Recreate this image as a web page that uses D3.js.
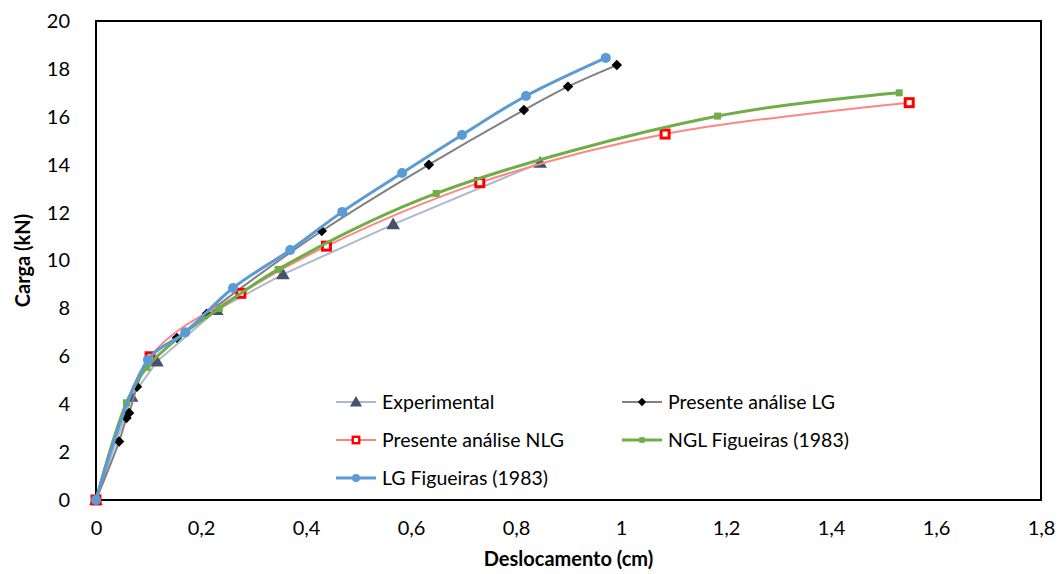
<!DOCTYPE html>
<html>
<head>
<meta charset="utf-8">
<script src="https://cdn.jsdelivr.net/npm/d3@7"></script>
<style>
  body { margin: 0; background: #fff; }
  text { font-family: Lato, 'Open Sans', sans-serif; }
</style>
</head>
<body>
<div id="app"></div>
<script>
// x = deslocamento (cm), y = carga (kN)
const expX = [0, 0.068, 0.116, 0.23, 0.356, 0.566, 0.846];
const expY = [0, 4.31, 5.78, 7.93, 9.42, 11.51, 14.08];

const lgX = [0, 0.044, 0.058, 0.063, 0.078, 0.1, 0.154, 0.211, 0.43, 0.634, 0.815, 0.899, 0.992];
const lgY = [0, 2.44, 3.42, 3.63, 4.73, 5.9, 6.77, 7.78, 11.23, 14.0, 16.28, 17.26, 18.16];

const nlgX = [0, 0.103, 0.276, 0.439, 0.731, 1.084, 1.549];
const nlgY = [0, 5.98, 8.63, 10.6, 13.25, 15.28, 16.59];

const ngfX = [0, 0.058, 0.097, 0.17, 0.235, 0.347, 0.648, 1.184, 1.53];
const ngfY = [0, 4.06, 5.54, 7.0, 8.0, 9.63, 12.8, 16.03, 17.0];

const lgfX = [0, 0.099, 0.17, 0.261, 0.37, 0.469, 0.583, 0.697, 0.819, 0.971];
const lgfY = [0, 5.85, 7.0, 8.85, 10.44, 12.03, 13.65, 15.24, 16.87, 18.46];

const xTicks = [0, 0.2, 0.4, 0.6, 0.8, 1, 1.2, 1.4, 1.6, 1.8];
const yTicks = [0, 2, 4, 6, 8, 10, 12, 14, 16, 18, 20];

const zip = (xs, ys) => xs.map((x, i) => ({ x: x, y: ys[i] }));

const series = [
  { name: 'Experimental', data: zip(expX, expY), line: '#adb9ca', width: 2, marker: 'triangle', fill: '#44546a', stroke: '#44546a', smooth: false },
  { name: 'Presente análise LG', data: zip(lgX, lgY), line: '#808080', width: 2, marker: 'diamond', fill: '#000', stroke: '#000', smooth: true },
  { name: 'Presente análise NLG', data: zip(nlgX, nlgY), line: '#ff8585', width: 2, marker: 'square-open', fill: '#fff', stroke: '#ff0000', smooth: true },
  { name: 'NGL Figueiras (1983)', data: zip(ngfX, ngfY), line: '#70ad47', width: 3, marker: 'square', fill: '#70ad47', stroke: '#70ad47', smooth: true },
  { name: 'LG Figueiras (1983)', data: zip(lgfX, lgfY), line: '#5b9bd5', width: 3, marker: 'circle', fill: '#5b9bd5', stroke: '#5b9bd5', smooth: true }
];

const width = 1064;
const height = 574;
const margin = { left: 96, right: 23, top: 21, bottom: 74 };

const svg = d3.select('#app')
  .append('svg')
  .attr('width', width)
  .attr('height', height);

const x = d3.scaleLinear().domain([0, 1.8]).range([margin.left, width - margin.right]);
const y = d3.scaleLinear().domain([0, 20]).range([height - margin.bottom, margin.top]);

const fmt = (d) => String(d).replace('.', ',');

// tick labels
svg.append('g')
  .attr('transform', `translate(0,${height - margin.bottom})`)
  .call(d3.axisBottom(x).tickValues(xTicks).tickFormat(fmt).tickSize(0).tickPadding(21))
  .call((g) => g.select('.domain').remove())
  .selectAll('text')
  .attr('font-size', 20)
  .attr('fill', '#000')
  .style('font-family', 'Lato, sans-serif');

svg.append('g')
  .attr('transform', `translate(${margin.left},0)`)
  .call(d3.axisLeft(y).tickValues(yTicks).tickFormat(fmt).tickSize(0).tickPadding(26))
  .call((g) => g.select('.domain').remove())
  .selectAll('text')
  .attr('font-size', 20)
  .attr('fill', '#000')
  .style('font-family', 'Lato, sans-serif');

// plot frame
svg.append('rect')
  .attr('x', x(0))
  .attr('y', y(20))
  .attr('width', x(1.8) - x(0))
  .attr('height', y(0) - y(20))
  .attr('fill', 'none')
  .attr('stroke', '#000')
  .attr('stroke-width', 2);

// axis titles
svg.append('text')
  .attr('x', (x(0) + x(1.8)) / 2)
  .attr('y', 566)
  .attr('text-anchor', 'middle')
  .attr('font-size', 20)
  .attr('font-weight', 'bold')
  .text('Deslocamento (cm)');

svg.append('text')
  .attr('transform', `translate(30,${(y(0) + y(20)) / 2}) rotate(-90)`)
  .attr('text-anchor', 'middle')
  .attr('font-size', 20)
  .attr('font-weight', 'bold')
  .text('Carga (kN)');

const drawMarker = (g, s, cx, cy, scale) => {
  const k = scale || 1;
  if (s.marker === 'triangle') {
    g.append('path')
      .attr('d', d3.symbol(d3.symbolTriangle, 80 * k)())
      .attr('transform', `translate(${cx},${cy + 1})`)
      .attr('fill', s.fill);
  } else if (s.marker === 'diamond') {
    g.append('rect')
      .attr('x', cx - 3.7 * k).attr('y', cy - 3.7 * k)
      .attr('width', 7.4 * k).attr('height', 7.4 * k)
      .attr('transform', `rotate(45,${cx},${cy})`)
      .attr('fill', s.fill);
  } else if (s.marker === 'square-open') {
    g.append('rect')
      .attr('x', cx - 4 * k).attr('y', cy - 4 * k)
      .attr('width', 8 * k).attr('height', 8 * k)
      .attr('fill', s.fill)
      .attr('stroke', s.stroke)
      .attr('stroke-width', 3 * k);
  } else if (s.marker === 'square') {
    g.append('rect')
      .attr('x', cx - 3.5 * k).attr('y', cy - 3.5 * k)
      .attr('width', 7 * k).attr('height', 7 * k)
      .attr('fill', s.fill);
  } else {
    g.append('circle')
      .attr('cx', cx).attr('cy', cy).attr('r', 5 * k)
      .attr('fill', s.fill);
  }
};

const plot = svg.append('g');

series.forEach((s) => {
  const line = d3.line()
    .x((d) => x(d.x))
    .y((d) => y(d.y))
    .curve(s.smooth ? d3.curveCatmullRom.alpha(0.5) : d3.curveLinear);

  plot.append('path')
    .datum(s.data)
    .attr('d', line)
    .attr('fill', 'none')
    .attr('stroke', s.line)
    .attr('stroke-width', s.width)
    .attr('stroke-linejoin', 'round');

  const mk = plot.append('g');
  s.data.forEach((d) => drawMarker(mk, s, x(d.x), y(d.y)));
});

// legend
const legendPos = [
  { lx: 336, ty: 402 },
  { lx: 622, ty: 402 },
  { lx: 336, ty: 440 },
  { lx: 622, ty: 440 },
  { lx: 336, ty: 478 }
];

const legend = svg.append('g');
series.forEach((s, i) => {
  const p = legendPos[i];
  legend.append('line')
    .attr('x1', p.lx).attr('x2', p.lx + 40)
    .attr('y1', p.ty).attr('y2', p.ty)
    .attr('stroke', s.line)
    .attr('stroke-width', s.width);
  drawMarker(legend, s, p.lx + 20, p.ty, 0.8);
  legend.append('text')
    .attr('x', p.lx + 46)
    .attr('y', p.ty)
    .attr('dy', '0.36em')
    .attr('font-size', 19.5)
    .attr('fill', '#000')
    .text(s.name);
});
</script>
</body>
</html>
